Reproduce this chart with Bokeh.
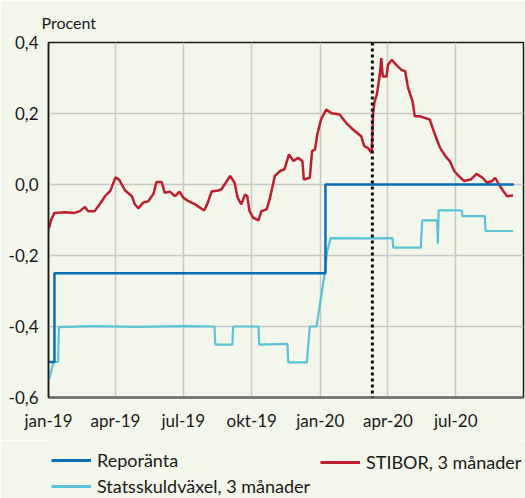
import pandas as pd
from bokeh.plotting import figure
from bokeh.layouts import column
from bokeh.models import (Range1d, FixedTicker, CustomJSTickFormatter, Span, Title,
                          Legend, LegendItem, ColumnDataSource)
from bokeh.embed import file_html
from bokeh.resources import INLINE

# ---------------- data ----------------
repo_dates = ["2019-01-01", "2019-01-09", "2020-01-08", "2020-09-17"]
repo_values = [-0.50, -0.25, 0.00, 0.00]

stibor_dates = [
    "2019-01-01", "2019-01-02", "2019-01-05", "2019-01-09", "2019-01-23", "2019-02-05",
    "2019-02-12", "2019-02-19", "2019-02-23", "2019-03-04", "2019-03-11", "2019-03-18",
    "2019-03-25", "2019-04-01", "2019-04-06", "2019-04-14", "2019-04-23", "2019-04-27",
    "2019-05-02", "2019-05-08", "2019-05-15", "2019-05-22", "2019-05-26", "2019-06-02",
    "2019-06-06", "2019-06-13", "2019-06-20", "2019-06-26", "2019-07-01", "2019-07-08",
    "2019-07-17", "2019-07-29", "2019-08-03", "2019-08-08", "2019-08-17", "2019-08-21",
    "2019-09-02", "2019-09-08", "2019-09-12", "2019-09-17", "2019-09-22", "2019-09-25",
    "2019-09-28", "2019-10-03", "2019-10-10", "2019-10-14", "2019-10-21", "2019-10-25",
    "2019-11-01", "2019-11-08", "2019-11-14", "2019-11-20", "2019-11-26", "2019-12-02",
    "2019-12-08", "2019-12-10", "2019-12-18", "2019-12-21", "2019-12-25", "2019-12-28",
    "2020-01-02", "2020-01-09", "2020-01-16", "2020-01-27", "2020-02-05", "2020-02-14",
    "2020-02-25", "2020-02-29", "2020-03-05", "2020-03-10", "2020-03-12", "2020-03-14",
    "2020-03-17", "2020-03-21", "2020-03-23", "2020-03-25", "2020-03-30", "2020-04-01",
    "2020-04-06", "2020-04-12", "2020-04-19", "2020-04-24", "2020-04-28", "2020-05-04",
    "2020-05-07", "2020-05-14", "2020-05-27", "2020-06-03", "2020-06-10", "2020-06-17",
    "2020-06-23", "2020-06-29", "2020-07-05", "2020-07-12", "2020-07-21", "2020-07-29",
    "2020-08-06", "2020-08-12", "2020-08-19", "2020-08-23", "2020-08-28", "2020-09-03",
    "2020-09-08", "2020-09-16",
]
stibor_values = [
    -0.125, -0.120, -0.097, -0.080, -0.078, -0.080,
    -0.075, -0.063, -0.075, -0.075, -0.055, -0.033,
    -0.018, 0.020, 0.013, -0.017, -0.033, -0.056,
    -0.067, -0.051, -0.047, -0.026, 0.007, 0.007,
    -0.023, -0.020, -0.033, -0.020, -0.037, -0.047,
    -0.056, -0.073, -0.051, -0.020, -0.017, -0.014,
    0.024, 0.005, -0.037, -0.056, -0.028, -0.033,
    -0.075, -0.094, -0.101, -0.075, -0.070, -0.042,
    0.024, 0.038, 0.043, 0.085, 0.066, 0.075,
    0.066, 0.014, 0.019, 0.094, 0.099, 0.141,
    0.183, 0.211, 0.201, 0.197, 0.173, 0.155,
    0.136, 0.108, 0.103, 0.089, 0.200, 0.234,
    0.253, 0.309, 0.356, 0.304, 0.304, 0.337,
    0.351, 0.337, 0.323, 0.319, 0.272, 0.234,
    0.192, 0.192, 0.183, 0.141, 0.103, 0.080,
    0.066, 0.038, 0.024, 0.010, 0.014, 0.030,
    0.019, 0.005, 0.010, 0.019, 0.000, -0.019,
    -0.033, -0.031,
]

ssv_dates = [
    "2019-01-02", "2019-01-07", "2019-01-09", "2019-01-14", "2019-01-15", "2019-03-01",
    "2019-05-01", "2019-07-01", "2019-08-12", "2019-08-13", "2019-09-05", "2019-09-06",
    "2019-10-10", "2019-10-11", "2019-11-18", "2019-11-19", "2019-12-14", "2019-12-18",
    "2019-12-27", "2020-01-07", "2020-01-10", "2020-01-15", "2020-03-01", "2020-04-07",
    "2020-04-08", "2020-05-15", "2020-05-17", "2020-06-06", "2020-06-07", "2020-06-08",
    "2020-07-09", "2020-07-10", "2020-08-09", "2020-08-10", "2020-09-16",
]
ssv_values = [
    -0.548, -0.506, -0.500, -0.500, -0.402, -0.399,
    -0.401, -0.399, -0.400, -0.451, -0.451, -0.400,
    -0.400, -0.451, -0.449, -0.501, -0.501, -0.400,
    -0.400, -0.250, -0.192, -0.151, -0.152, -0.151,
    -0.178, -0.178, -0.101, -0.101, -0.167, -0.073,
    -0.073, -0.089, -0.089, -0.131, -0.131,
]

marker_date = "2020-03-11"

x_start, x_end = "2019-01-01", "2020-09-30"
y_start, y_end = -0.6, 0.4
x_tick_dates = ["2019-01-01", "2019-04-01", "2019-07-01", "2019-10-01",
                "2020-01-01", "2020-04-01", "2020-07-01"]
x_tick_labels = ["jan-19", "apr-19", "jul-19", "okt-19", "jan-20", "apr-20", "jul-20"]
y_ticks = [-0.6, -0.4, -0.2, 0.0, 0.2, 0.4]

unit_label = "Procent"
legend_labels = ["Reporänta", "STIBOR, 3 månader", "Statsskuldväxel, 3 månader"]

# ---------------- styles ----------------
BG = "#f3f6ea"
FONT = "Lato"
TXT = "#1a1a1a"
C_REPO = "#0a6db6"
C_STIB = "#be1e2d"
C_SSV = "#5bc3d8"
W_REPO, W_STIB, W_SSV = 2.5, 2.5, 2.2


def ms(s):
    return pd.Timestamp(s).value / 1e6


# ---------------- main chart ----------------
p = figure(width=525, height=440, x_axis_type="datetime",
           output_backend="svg", toolbar_location=None,
           x_range=Range1d(ms(x_start), ms(x_end)),
           y_range=Range1d(y_start, y_end),
           min_border_left=48, min_border_right=2,
           min_border_top=41, min_border_bottom=43)
p.background_fill_color = BG
p.border_fill_color = BG
p.outline_line_color = TXT
p.outline_line_width = 1.5

p.title = Title(text=unit_label, align="left", offset=-7, standoff=21,
                text_font=FONT, text_font_size="16px", text_font_style="normal",
                text_color=TXT)

p.xgrid.ticker = FixedTicker(ticks=[ms(d) for d in x_tick_dates])
p.ygrid.ticker = FixedTicker(ticks=y_ticks)
p.xgrid.grid_line_color = "#c9c9c9"
p.ygrid.grid_line_color = "#c9c9c9"
p.xgrid.grid_line_width = 1.5
p.ygrid.grid_line_width = 1.5

xa = p.xaxis[0]
xa.ticker = FixedTicker(ticks=[ms(d) for d in x_tick_dates])
xa.formatter = CustomJSTickFormatter(
    args=dict(tick_ms=[ms(d) for d in x_tick_dates], tick_names=x_tick_labels),
    code="""
    for (let i = 0; i < tick_ms.length; i++) {
        if (Math.abs(tick_ms[i] - tick) < 1e6) return tick_names[i];
    }
    return '';
    """)
ya = p.yaxis[0]
ya.ticker = FixedTicker(ticks=y_ticks)
ya.formatter = CustomJSTickFormatter(code="return tick.toFixed(1).replace('.', ',');")

for ax in (xa, ya):
    ax.major_tick_line_color = None
    ax.minor_tick_line_color = None
    ax.major_tick_out = 0
    ax.major_tick_in = 0
    ax.major_label_text_font = FONT
    ax.major_label_text_font_size = "17px"
    ax.major_label_text_color = TXT
xa.axis_line_color = "#6e6e6e"
xa.axis_line_width = 2.5
xa.major_label_standoff = 12
ya.axis_line_color = TXT
ya.axis_line_width = 1.5
ya.major_label_standoff = 10

src_repo = ColumnDataSource(dict(x=pd.to_datetime(repo_dates), y=repo_values))
src_stib = ColumnDataSource(dict(x=pd.to_datetime(stibor_dates), y=stibor_values))
src_ssv = ColumnDataSource(dict(x=pd.to_datetime(ssv_dates), y=ssv_values))

p.line("x", "y", source=src_ssv, line_color=C_SSV, line_width=W_SSV)
p.line("x", "y", source=src_stib, line_color=C_STIB, line_width=W_STIB)
p.step("x", "y", source=src_repo, mode="after", line_color=C_REPO, line_width=W_REPO)

p.add_layout(Span(location=ms(marker_date), dimension="height",
                  line_color="#111111", line_width=3, line_dash="3 3"))

# ---------------- legend strip (frame is aligned with the chart's frame) ----------------
q = figure(width=525, height=58, output_backend="svg", toolbar_location=None,
           x_range=Range1d(0, 1), y_range=Range1d(0, 1),
           x_axis_location=None, y_axis_location=None,
           min_border_left=48, min_border_right=2, min_border_top=0, min_border_bottom=0)
q.background_fill_color = BG
q.border_fill_color = BG
q.outline_line_color = None
q.xgrid.visible = False
q.ygrid.visible = False

# legend proxies: one invisible (NaN) point each, so only their legend glyph is drawn
proxy = dict(x=[float("nan")], y=[float("nan")])
k_repo = q.line(x="x", y="y", source=ColumnDataSource(proxy), line_color=C_REPO, line_width=3)
k_ssv = q.line(x="x", y="y", source=ColumnDataSource(proxy), line_color=C_SSV, line_width=3)
k_stib = q.line(x="x", y="y", source=ColumnDataSource(proxy), line_color=C_STIB, line_width=3)

leg_common = dict(background_fill_alpha=0, border_line_alpha=0, padding=0, margin=0,
                  spacing=4, glyph_width=40, glyph_height=20, label_height=20,
                  label_standoff=6, label_text_font=FONT, label_text_font_size="18px",
                  label_text_color=TXT, label_text_baseline="middle")
leg1 = Legend(items=[LegendItem(label=legend_labels[0], renderers=[k_repo]),
                     LegendItem(label=legend_labels[2], renderers=[k_ssv])],
              location=(3, 1), **leg_common)
leg2 = Legend(items=[LegendItem(label=legend_labels[1], renderers=[k_stib])],
              location=(272, 25), **leg_common)
q.add_layout(leg1)
q.add_layout(leg2)

layout = column(p, q, spacing=0)
open("out.html", "w").write(file_html(layout, INLINE))
